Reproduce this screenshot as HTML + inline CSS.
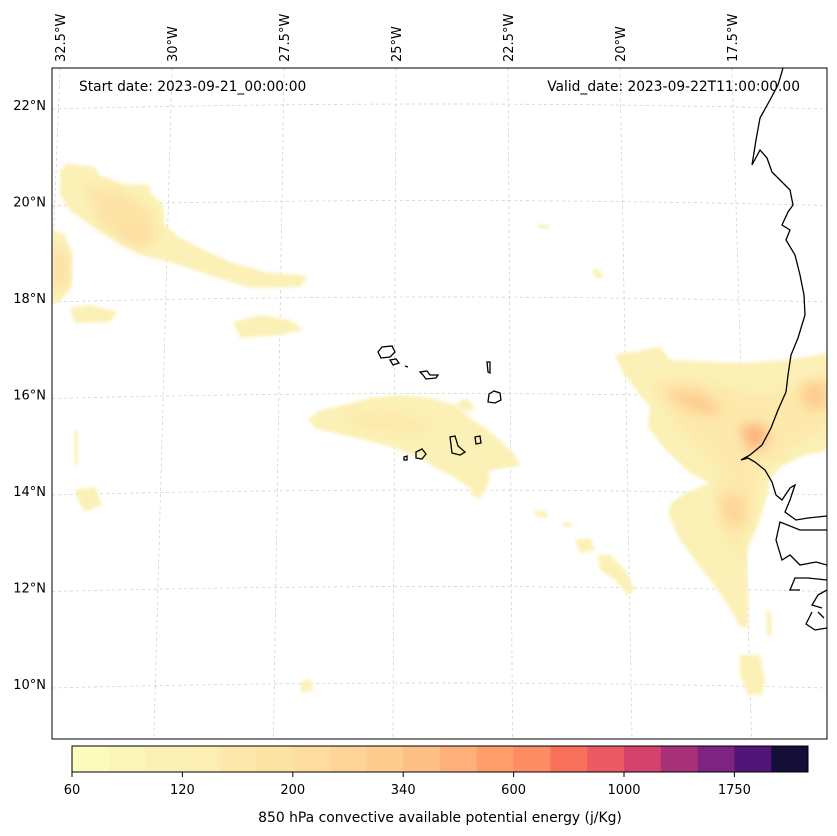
<!DOCTYPE html>
<html><head><meta charset="utf-8">
<style>
html,body{margin:0;padding:0;background:#fff;}
svg{display:block;font-family:"DejaVu Sans","Liberation Sans",sans-serif;}
</style></head>
<body>
<svg id="chart" width="837" height="836" viewBox="0 0 837 836" xmlns="http://www.w3.org/2000/svg">
<defs>
<filter id="blur" x="-20%" y="-20%" width="140%" height="140%"><feGaussianBlur stdDeviation="1.5"/></filter>
<filter id="blur2" x="-50%" y="-50%" width="200%" height="200%"><feGaussianBlur stdDeviation="6"/></filter>
<clipPath id="mapclip"><rect x="52" y="68" width="775" height="671"/></clipPath>
</defs>
<g id="map" clip-path="url(#mapclip)">
<rect x="52" y="68" width="775" height="671" fill="#fff"/>
<g id="grid"></g>
<g id="fields"></g>
<g fill="none" stroke="#000" stroke-width="1.3">
<path d="M783,68 L778,85 L770,100 L760,118 L756,140 L752,165 L760,150 L767,158 L772,172 L780,180 L790,190 L793,205 L788,212 L782,225 L790,230 L786,240 L795,255 L800,275 L804,295 L805,315 L798,338 L791,355 L788,375 L786,392 L778,410 L771,428 L762,445 L750,455 L741,460 L748,458 L755,462 L765,470 L772,482 L776,495 L782,500 L790,488 L795,485 L790,500 L785,512 L796,520 L808,518 L827,516"/>
<path d="M827,530 L800,530 L780,522 L776,540 L782,560 L790,555 L800,565 L816,562 L827,565 M827,580 L808,578 L795,578 L790,590 L800,590 M827,590 L818,595 L812,605 L822,608 M812,612 L806,624 L815,630 L827,628 M818,612 L824,618"/>
<path d="M378,352 L382,347 L392,346 L395,352 L390,357 L381,358 Z"/>
<path d="M390,360 L396,359 L399,363 L393,365 Z"/>
<path d="M420,372 L427,371 L430,375 L438,375 L436,378 L426,379 L423,375 Z"/>
<path d="M487,362 L490,362 L490,373 L488,372 Z"/>
<path d="M489,394 L494,391 L500,393 L501,400 L495,403 L488,402 Z"/>
<path d="M450,437 L455,436 L458,446 L465,452 L460,455 L452,453 Z"/>
<path d="M475,437 L480,436 L481,443 L476,444 Z"/>
<path d="M416,452 L422,449 L426,454 L422,459 L416,458 Z"/>
<path d="M404,457 L407,456 L407,460 L404,460 Z"/>
<path d="M405,366 L408,367"/>
</g>
</g>
<rect x="52" y="68" width="775" height="671" fill="none" stroke="#000" stroke-width="1"/>
<g id="latlabels" font-size="13" fill="#000" text-anchor="end"></g>
<g id="lonlabels" font-size="13" fill="#000"></g>
<text x="79" y="91" font-size="13.8">Start date: 2023-09-21_00:00:00</text>
<text x="800" y="91" font-size="13.8" text-anchor="end">Valid_date: 2023-09-22T11:00:00.00</text>
<g id="colorbar"></g>
<text x="440" y="822" font-size="13.9" text-anchor="middle">850 hPa convective available potential energy (j/Kg)</text>
</svg>
<script>
const latTicks = [22, 20, 18, 16, 14, 12, 10];
const lonTicks = [-32.5, -30, -27.5, -25, -22.5, -20, -17.5];
const levelLabels = ["60","120","200","340","600","1000","1750"];
const levelCount = 20;
const levelColors = ["#fcfbbd","#fbf5b9","#fbf1b6","#fcefb3","#fde9ab","#fde3a5","#fddda0","#fed498","#fecb8f","#febf84","#feb07a","#fe9c6a","#fd8c63","#f7705c","#eb5a62","#d3436e","#a8317a","#7d2482","#511577","#150e37"];
// CAPE regions on the map canvas: [level index, soft core?, outline points]
const capeAreas = [
 [2,0,[[60,170],[68,163],[78,165],[95,167],[100,175],[122,184],[150,185],[150,192],[163,205],[165,225],[180,238],[200,248],[230,262],[265,272],[308,276],[300,287],[250,288],[210,275],[170,262],[140,255],[115,240],[90,225],[70,210],[60,195]]],
 [5,1,[[85,185],[120,190],[150,210],[158,240],[130,245],[100,225]]],
 [6,1,[[120,225],[150,232],[150,245],[125,240]]],
 [2,0,[[52,230],[65,235],[72,255],[72,285],[62,300],[52,305]]],
 [6,1,[[52,245],[66,255],[66,285],[52,290]]],
 [2,0,[[70,308],[90,305],[118,312],[110,322],[75,323]]],
 [2,0,[[233,322],[260,315],[290,320],[303,330],[280,335],[240,338]]],
 [2,0,[[308,420],[320,410],[345,405],[370,398],[400,395],[430,398],[455,405],[470,418],[485,428],[500,440],[515,455],[520,466],[505,468],[490,470],[488,485],[480,498],[472,496],[470,488],[455,478],[440,470],[420,458],[395,448],[365,440],[335,433],[315,428]]],
 [4,1,[[340,412],[400,412],[440,425],[420,435],[360,430]]],
 [2,0,[[455,405],[465,398],[476,408],[465,412]]],
 [2,0,[[75,490],[95,487],[102,505],[85,512],[78,500]]],
 [2,0,[[74,430],[78,432],[78,465],[75,465]]],
 [2,0,[[300,683],[310,678],[313,690],[302,693]]],
 [2,0,[[740,655],[760,655],[765,680],[762,695],[748,695],[740,675]]],
 [2,0,[[766,610],[771,612],[772,635],[767,635]]],
 [2,0,[[535,510],[548,512],[546,518],[536,516]]],
 [2,0,[[563,522],[572,523],[571,528],[563,526]]],
 [2,0,[[575,540],[590,538],[595,550],[580,553]]],
 [2,0,[[598,555],[610,555],[625,570],[635,590],[628,595],[615,580],[600,570]]],
 [2,0,[[538,224],[550,225],[549,229],[538,228]]],
 [2,0,[[592,268],[600,270],[603,278],[595,278]]],
 [2,0,[[615,355],[660,347],[670,360],[740,363],[787,360],[827,353],[827,450],[800,457],[780,467],[770,480],[767,497],[757,527],[747,547],[747,573],[748,600],[748,627],[740,627],[733,613],[720,593],[700,567],[680,540],[668,513],[672,502],[687,492],[710,483],[690,473],[663,447],[648,427],[650,407],[623,373]]],
 [4,1,[[650,380],[700,380],[760,395],[827,380],[827,430],[790,450],[760,470],[750,520],[740,560],[725,540],[715,500],[720,470],[690,440],[665,410]]],
 [8,1,[[665,390],[700,392],[725,410],[705,415],[680,405]]],
 [10,1,[[740,425],[765,425],[768,445],[748,450]]],
 [7,1,[[720,495],[745,495],[745,525],[725,525]]],
 [8,1,[[800,385],[827,380],[827,410],[805,408]]]
];
const NS='http://www.w3.org/2000/svg';
function yOf(lat){ return 105 + (22-lat)*48.25; }
function xOf(lon,y){ return 396 + (lon+25)*44.8 + (lon+24)*(y-68)*0.0045; }
function mk(tag,attrs,parent){ const e=document.createElementNS(NS,tag); for(const k in attrs) e.setAttribute(k,attrs[k]); parent.appendChild(e); return e; }
const grid=document.getElementById('grid');
for(let lat=8;lat<=24;lat+=2){
  const y=yOf(lat);
  const l=mk('path',{d:`M52,${y+4} Q440,${y-6} 827,${y+4}`,fill:'none',stroke:'#ccc','stroke-width':0.7,'stroke-dasharray':'3,3'},grid);
  
  
}
for(const lon of lonTicks.concat([-15])){
  const l=mk('line',{x1:xOf(lon,68),y1:68,x2:xOf(lon,739),y2:739,stroke:'#ccc','stroke-width':0.7,'stroke-dasharray':'3,3'},grid);
  
  
}
const fields=document.getElementById('fields');
capeAreas.forEach(([lev,soft,pts])=>{
  const d=pts.map((p,i)=>(i?'L':'M')+p[0]+','+p[1]).join(' ')+'Z';
  const e=mk('path',{d:d,fill:levelColors[lev],filter:soft?'url(#blur2)':'url(#blur)','stroke-linejoin':'round'},fields);
  
  
});
const ll=document.getElementById('latlabels');
latTicks.forEach(lat=>{
  const t=mk('text',{x:46,y:yOf(lat)+5},ll); t.textContent=lat+'°N';
  
  
});
const lo=document.getElementById('lonlabels');
lonTicks.forEach(lon=>{
  const x=xOf(lon,68)+5;
  const t=mk('text',{x:x,y:62,transform:`rotate(-90 ${x} 62)`},lo); t.textContent=Math.abs(lon)+'°W';
  
  
});
const cb=document.getElementById('colorbar');
const cx0=72,cx1=808,cy=746,ch=26,bw=(cx1-cx0)/levelCount;
for(let i=0;i<levelCount;i++){
  const r=mk('rect',{x:cx0+i*bw,y:cy,width:bw+0.5,height:ch,fill:levelColors[i]},cb);
  
  
}
const fr=mk('rect',{x:cx0,y:cy,width:cx1-cx0,height:ch,fill:'none',stroke:'#000','stroke-width':1},cb);


levelLabels.forEach((lab,i)=>{
  const x=cx0+i*3*bw;
  const tk=mk('line',{x1:x,y1:cy+ch,x2:x,y2:cy+ch+5,stroke:'#000'},cb);
  
  
  const t=mk('text',{x:x,y:794,'font-size':13,'text-anchor':'middle'},cb); t.textContent=lab;
  
  
});
</script>
</body></html>
